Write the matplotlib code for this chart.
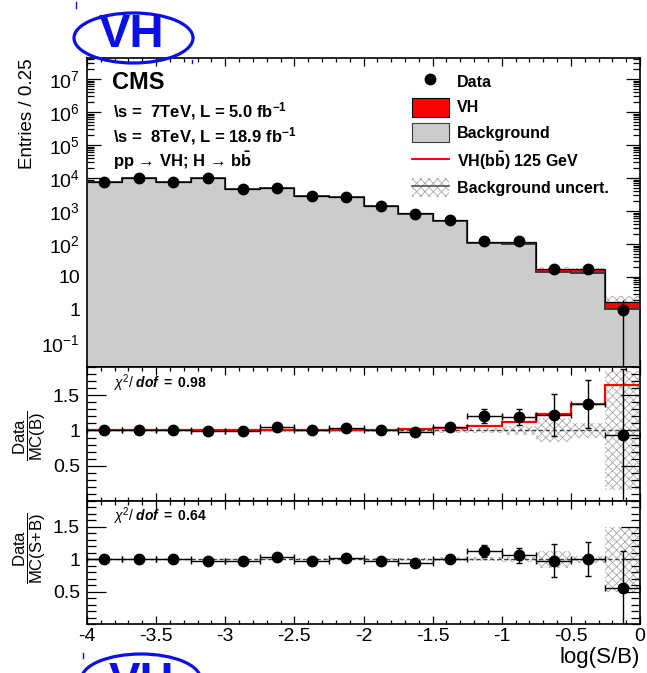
"""VH(bb) log(S/B) distribution with two ratio panels, CMS-style."""

import matplotlib

matplotlib.use("Agg")
import matplotlib.pyplot as plt
import numpy as np
from matplotlib.lines import Line2D
from matplotlib.patches import Ellipse, Patch
from matplotlib.ticker import FuncFormatter, LogLocator, MultipleLocator, FixedLocator

W, H = 647, 673

# ---- data ---------------------------------------------------------------
BIN_EDGES = np.linspace(-4.0, 0.0, 17)
DATA = [7600, 9800, 7800, 9800, 4600, 5100, 2800, 2650, 1450, 810, 540, 126, 120, 17, 17.4, 1.0]
DATA_ERR = [87, 99, 88, 99, 68, 71, 53, 51, 38, 28, 23, 11, 11, 4.1, 4.2, 1.0]
BKG = [7520, 9800, 7800, 9900, 4650, 4860, 2800, 2570, 1450, 826, 514, 105, 101, 14.5, 12.8, 1.08]
SIG = [3, 5, 5, 8, 6, 9, 8, 10, 14, 16, 20, 7.4, 12, 3.3, 4.8, 0.7]

RATIO_B = [1.01, 1.0, 1.0, 0.99, 0.99, 1.05, 1.0, 1.03, 1.0, 0.98, 1.05, 1.2, 1.19, 1.22, 1.38, 0.93]
RATIO_B_ERR = [0.012, 0.01, 0.012, 0.01, 0.015, 0.015, 0.02, 0.02, 0.027, 0.035, 0.045, 0.1, 0.11, 0.3, 0.34, 0.94]
RATIO_SB = [1.0, 1.0, 1.0, 0.98, 0.97, 1.04, 0.98, 1.02, 0.98, 0.95, 1.0, 1.125, 1.06, 0.98, 1.0, 0.55]
RATIO_SB_ERR = [0.012, 0.01, 0.012, 0.01, 0.015, 0.015, 0.02, 0.02, 0.027, 0.035, 0.045, 0.09, 0.11, 0.25, 0.26, 0.58]
UNC_B = [0.01, 0.01, 0.01, 0.01, 0.01, 0.015, 0.015, 0.015, 0.02, 0.02, 0.03, 0.04, 0.06, 0.17, 0.10, 0.85]
UNC_SB = [0.01, 0.01, 0.01, 0.01, 0.01, 0.015, 0.015, 0.015, 0.02, 0.02, 0.03, 0.03, 0.04, 0.13, 0.05, 0.5]

CHI2_B = 0.98
CHI2_SB = 0.64

# ---- style ---------------------------------------------------------------
RED = "#ff0000"
GRAY = "#cccccc"
DARK = "#3a3a3a"
HATCH = "#a8a8a8"
BLUE = "#0a10e8"
TICK_FONT = 14

plt.rcParams.update({
    "font.family": ["Liberation Sans", "DejaVu Sans"],
    "mathtext.fontset": "custom",
    "mathtext.rm": "Liberation Sans",
    "mathtext.it": "Liberation Sans:italic",
    "mathtext.bf": "Liberation Sans:bold",
    "mathtext.sf": "Liberation Sans:bold:italic",
    "axes.unicode_minus": False,
    "hatch.linewidth": 0.6,
})


def fig_xy(x, y):
    """pixel (from top-left) -> figure fraction"""
    return x / W, 1.0 - y / H


def add_axes_px(fig, left, top, right, bottom):
    return fig.add_axes([left / W, 1 - bottom / H, (right - left) / W, (bottom - top) / H])


def style_axis(ax, ymaj, ymin):
    ax.set_xlim(BIN_EDGES[0], BIN_EDGES[-1])
    ax.xaxis.set_major_locator(MultipleLocator(0.5))
    ax.xaxis.set_minor_locator(MultipleLocator(0.1))
    ax.xaxis.set_major_formatter(FuncFormatter(lambda v, _: f"{v:g}"))
    ax.tick_params(which="both", direction="in", top=True, right=True, width=0.9,
                   labelsize=TICK_FONT, colors="black")
    ax.tick_params(axis="x", which="major", length=5.8, pad=3)
    ax.tick_params(axis="x", which="minor", length=2.9)
    ax.tick_params(axis="y", which="major", length=ymaj, pad=5)
    ax.tick_params(axis="y", which="minor", length=ymin)
    for s in ax.spines.values():
        s.set_linewidth(1.2)


def log_label(v, _):
    n = int(round(np.log10(v)))
    if n == 0:
        return "1"
    if n == 1:
        return "10"
    return rf"$\mathregular{{10^{{{n}}}}}$"


def hatch_band(ax, centers, widths, lo, hi, zorder):
    ax.bar(centers, hi - lo, bottom=lo, width=widths, fill=False, hatch="xxxx",
           edgecolor=HATCH, linewidth=0, zorder=zorder)


def ratio_panel(ax, centers, half, ratio, err, unc, chi2, red_line=None):
    unc = np.asarray(unc)
    hatch_band(ax, centers, 2 * half, 1 - unc, 1 + unc, 1)
    ax.axhline(1.0, color="#404040", ls=(0, (3, 2)), lw=1.0, zorder=2)
    if red_line is not None:
        ax.stairs(red_line, BIN_EDGES, baseline=None, color=RED, lw=1.6, zorder=3)
    ax.errorbar(centers, ratio, xerr=half, yerr=err, fmt="o", color="black", ms=7.5,
                elinewidth=1.0, capsize=2, capthick=1.0, zorder=5, clip_on=True)
    ax.set_ylim(0.0, 1.9)
    ax.yaxis.set_major_locator(FixedLocator([0.5, 1.0, 1.5]))
    ax.yaxis.set_minor_locator(MultipleLocator(0.1))
    ax.yaxis.set_major_formatter(FuncFormatter(lambda v, _: f"{v:g}"))
    style_axis(ax, 13.5, 6.5)
    ax.text(0.047, 0.88, rf"$\chi^{{2}}\mathrm{{/}}\ \mathsf{{dof}}\ \mathbf{{=\ {chi2:.2f}}}$",
            transform=ax.transAxes, fontsize=10, ha="left", va="center")


def vh_logo(fig, cx, cy, tx, ty):
    x, y = fig_xy(cx, cy)
    fig.add_artist(Ellipse((x, y), 119 / W, 50 / H, transform=fig.transFigure,
                           fill=False, edgecolor=BLUE, lw=2.3))
    x, y = fig_xy(tx, ty)
    fig.text(x, y, "VH", color=BLUE, fontsize=34, fontweight="bold", ha="center", va="top")


def main():
    edges = BIN_EDGES
    centers = 0.5 * (edges[:-1] + edges[1:])
    half = 0.5 * np.diff(edges)
    bkg = np.asarray(BKG, float)
    sig = np.asarray(SIG, float)
    total = bkg + sig
    unc_sb = np.asarray(UNC_SB)

    fig = plt.figure(figsize=(W / 100, H / 100), dpi=100)
    ax = add_axes_px(fig, 87, 58, 640, 367)
    ax_r1 = add_axes_px(fig, 87, 367, 640, 501)
    ax_r2 = add_axes_px(fig, 87, 501, 640, 624)

    # main panel
    ax.set_yscale("log")
    hatch_band(ax, centers, 2 * half, total * (1 - unc_sb), total * (1 + unc_sb), 1)
    ax.stairs(bkg, edges, baseline=1e-4, fill=True, color=GRAY, zorder=2)
    ax.stairs(total, edges, baseline=bkg, fill=True, color=RED, zorder=2)
    ax.stairs(bkg, edges, baseline=None, color=DARK, lw=1.4, zorder=3)
    ax.stairs(total, edges, baseline=None, color="black", lw=0.9, zorder=3)
    ax.errorbar(centers, DATA, yerr=DATA_ERR, fmt="o", color="black", ms=7.5,
                elinewidth=1.0, capsize=0, zorder=5)
    ax.set_ylim(10 ** -1.73, 10 ** 7.64)
    ax.yaxis.set_major_locator(LogLocator(base=10, numticks=20))
    ax.yaxis.set_minor_locator(LogLocator(base=10, subs=np.arange(2, 10), numticks=20))
    ax.yaxis.set_major_formatter(FuncFormatter(log_label))
    style_axis(ax, 10, 5)
    ax.tick_params(axis="x", labelbottom=False)

    fig.text(*fig_xy(112, 89), "CMS", fontsize=17, fontweight="bold", va="baseline")
    info = [
        (117, "\\s =  7TeV, L = 5.0 fb" + r"$^{\mathbf{-1}}$"),
        (142, "\\s =  8TeV, L = 18.9 fb" + r"$^{\mathbf{-1}}$"),
        (167, "pp \u2192 VH; H \u2192 b" + r"$\mathbf{\bar{b}}$"),
    ]
    for y, txt in info:
        fig.text(*fig_xy(113, y), txt, fontsize=12, fontweight="bold", va="baseline")

    handles = [
        Line2D([], [], marker="o", ls="none", color="black", ms=7.5),
        Patch(facecolor=RED, edgecolor="black", lw=0.8),
        Patch(facecolor=GRAY, edgecolor=DARK, lw=0.8),
        Line2D([], [], color=RED, lw=1.4),
        (Patch(fill=False, hatch="xxxx", edgecolor=HATCH, lw=0), Line2D([], [], color="#555555", lw=1.2)),
    ]
    labels = ["Data", "VH", "Background", r"VH(b$\mathbf{\bar{b}}$) 125 GeV", "Background uncert."]
    lx, ly = fig_xy(412, 72)
    fig.legend(handles, labels, loc="upper left", bbox_to_anchor=(lx, ly), frameon=False,
               prop={"weight": "bold", "size": 11.5}, handlelength=2.3, handleheight=1.45,
               handletextpad=0.5, labelspacing=0.42, borderaxespad=0, borderpad=0)

    # ratio panels
    ratio_panel(ax_r1, centers, half, RATIO_B, RATIO_B_ERR, UNC_B, CHI2_B, red_line=total / bkg)
    ax_r1.tick_params(axis="x", labelbottom=False)
    ratio_panel(ax_r2, centers, half, RATIO_SB, RATIO_SB_ERR, UNC_SB, CHI2_SB)

    # axis titles
    fig.text(*fig_xy(27, 58), "Entries / 0.25", rotation=90, fontsize=13.5, ha="center", va="top")
    fig.text(*fig_xy(30, 436), r"$\dfrac{\mathrm{Data}}{\mathrm{MC(B)}}$", rotation=90,
             fontsize=12, ha="center", va="center")
    fig.text(*fig_xy(30, 548), r"$\dfrac{\mathrm{Data}}{\mathrm{MC(S\!+\!B)}}$", rotation=90,
             fontsize=12, ha="center", va="center")
    fig.text(*fig_xy(640, 657), "log(S/B)", fontsize=16, ha="right", va="center")

    # VH stamps above and below the plot
    vh_logo(fig, 133.5, 38, 131.5, 13)
    vh_logo(fig, 141, 679, 141, 661)
    for (x0, y0), (x1, y1) in [((76, 2), (76, 8)), ((192, 60), (192, 63)), ((83, 653), (83, 658))]:
        fig.add_artist(Line2D([x0 / W, x1 / W], [1 - y0 / H, 1 - y1 / H], color=BLUE, lw=1.0,
                              transform=fig.transFigure))

    fig.savefig("out.png", dpi=100, facecolor="white")


if __name__ == "__main__":
    main()
